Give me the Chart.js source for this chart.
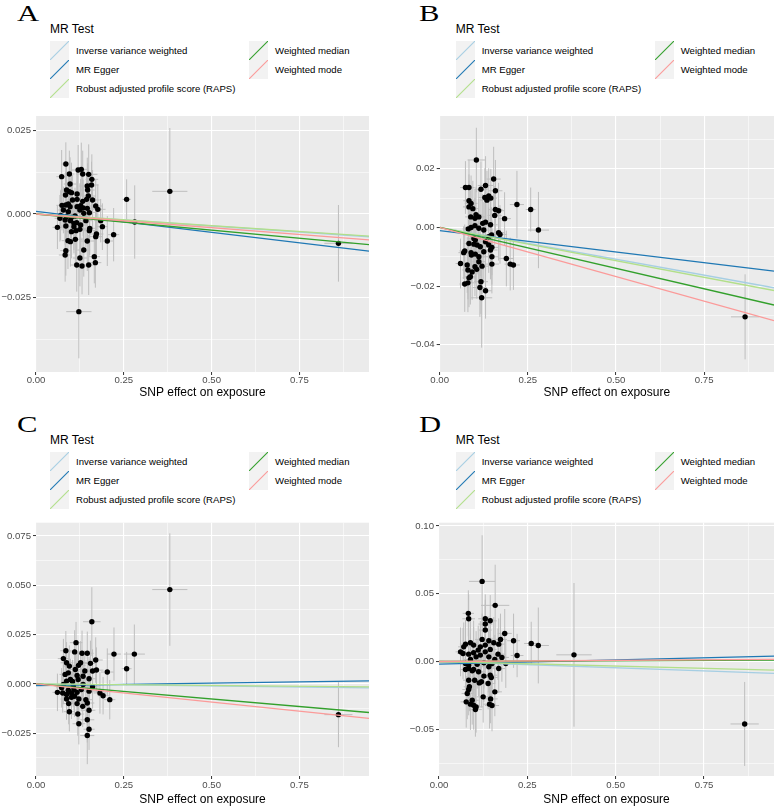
<!DOCTYPE html>
<html><head><meta charset="utf-8">
<script src="https://cdn.jsdelivr.net/npm/chart.js@4.4.1/dist/chart.umd.min.js"></script>
<style>
html,body{margin:0;padding:0;background:#fff}
body{width:778px;height:807px;position:relative;overflow:hidden;font-family:"Liberation Sans",Arial,sans-serif}
canvas{position:absolute}
.letter{position:absolute;font-family:"Liberation Serif","Times New Roman",serif;font-size:22.7px;line-height:1;transform:scaleX(1.35);transform-origin:left top;color:#000;white-space:nowrap}
.ltitle{position:absolute;font-size:12px;line-height:1;color:#000;white-space:nowrap}
.ltext{position:absolute;font-size:9.6px;line-height:1;color:#000;white-space:nowrap}
.key{position:absolute;width:19px;height:19px}
</style>
</head><body>
<script>
// ---------------- data ----------------
const methods = ["Inverse variance weighted","MR Egger","Robust adjusted profile score (RAPS)","Weighted median","Weighted mode"];
const methodColors = ["#a6cee3","#1f78b4","#b2df8a","#33a02c","#fb9a99"];
const xMax = 0.948;

// Panel A
const aX = [0.085,0.073,0.095,0.097,0.12,0.129,0.133,0.15,0.159,0.158,0.146,0.087,0.095,0.101,0.117,0.084,0.117,0.149,0.144,0.161,0.258,0.381,0.074,0.085,0.097,0.117,0.127,0.134,0.146,0.17,0.176,0.125,0.078,0.092,0.152,0.07,0.087,0.101,0.111,0.083,0.098,0.116,0.142,0.127,0.061,0.085,0.108,0.125,0.153,0.152,0.189,0.184,0.281,0.101,0.114,0.172,0.17,0.221,0.091,0.112,0.098,0.146,0.203,0.861,0.136,0.085,0.083,0.125,0.166,0.169,0.116,0.131,0.15,0.122,0.108,0.068,0.136,0.092,0.133,0.104,0.147];
const aY = [0.015,0.0112,0.012,0.009,0.0132,0.0134,0.012,0.0119,0.0104,0.0087,0.0084,0.0072,0.0067,0.0064,0.006,0.0057,0.0044,0.0054,0.0044,0.0042,0.0044,0.0068,0.0026,0.0027,0.0022,0.0022,0.0025,0.0018,0.0017,0.0024,0.0014,0.0012,0.0012,0.0007,0.0004,-0.0004,-0.0008,-0.001,-0.0006,-0.0018,-0.002,-0.0026,-0.002,-0.0033,-0.004,-0.0036,-0.0038,-0.0046,-0.0043,-0.005,-0.0038,-0.002,-0.0024,-0.0053,-0.005,-0.006,-0.0068,-0.0062,-0.008,-0.0076,-0.0083,-0.0081,-0.0081,-0.0088,-0.0108,-0.011,-0.0123,-0.0132,-0.0128,-0.0146,-0.0153,-0.0156,-0.0153,-0.0293,-0.0028,-0.0013,0.0002,0.003,0.0038,0.0042,0.0072];
const aSX = [0.012,0.015,0.014,0.018,0.02,0.016,0.019,0.025,0.018,0.02,0.022,0.017,0.02,0.016,0.018,0.014,0.02,0.022,0.018,0.02,0.012,0.05,0.016,0.018,0.02,0.019,0.017,0.021,0.018,0.02,0.022,0.016,0.015,0.02,0.018,0.016,0.02,0.018,0.016,0.018,0.02,0.019,0.02,0.018,0.014,0.016,0.018,0.02,0.017,0.02,0.016,0.018,0.014,0.019,0.016,0.02,0.018,0.016,0.018,0.02,0.016,0.02,0.016,0.04,0.018,0.016,0.018,0.02,0.016,0.017,0.018,0.02,0.018,0.036,0.018,0.015,0.02,0.017,0.019,0.016,0.02];
const aSY = [0.0065,0.008,0.007,0.008,0.0075,0.008,0.007,0.009,0.0075,0.007,0.0085,0.008,0.0075,0.009,0.008,0.007,0.0085,0.008,0.0075,0.009,0.006,0.019,0.0075,0.008,0.0085,0.0075,0.008,0.0085,0.009,0.008,0.0075,0.008,0.007,0.0085,0.008,0.0075,0.008,0.009,0.0085,0.0075,0.008,0.0085,0.008,0.009,0.0065,0.0075,0.008,0.0085,0.008,0.0075,0.007,0.0065,0.011,0.008,0.0085,0.0075,0.008,0.008,0.0085,0.008,0.0075,0.009,0.0075,0.0115,0.008,0.0075,0.008,0.0085,0.008,0.0075,0.008,0.0085,0.009,0.014,0.008,0.007,0.008,0.0085,0.008,0.0075,0.008];
const aIntercepts = [0, 0.0008, 0, 0, 0];
const aSlopes = [-0.0072, -0.0126, -0.0070, -0.0097, -0.0082];

// Panel B
const bX = [0.104,0.073,0.083,0.153,0.13,0.117,0.158,0.128,0.139,0.145,0.083,0.089,0.083,0.219,0.258,0.158,0.167,0.156,0.103,0.088,0.111,0.1,0.13,0.122,0.144,0.184,0.1,0.081,0.089,0.111,0.28,0.167,0.171,0.147,0.139,0.097,0.083,0.097,0.106,0.139,0.115,0.148,0.071,0.089,0.101,0.09,0.125,0.148,0.189,0.068,0.111,0.059,0.148,0.2,0.209,0.078,0.1,0.12,0.08,0.092,0.105,0.087,0.083,0.117,0.071,0.08,0.114,0.13,0.119,0.866,0.101,0.13,0.125,0.134,0.094,0.144,0.111];
const bY = [0.023,0.0136,0.0136,0.0165,0.0143,0.013,0.0125,0.0102,0.0107,0.01,0.0091,0.0082,0.007,0.0078,0.0061,0.0061,0.0057,0.0041,0.0043,0.0036,0.0036,0.0031,0.0018,0.0014,0.0009,0.003,0.0006,-0.0005,0,-0.0003,-0.0009,-0.0018,-0.0024,-0.0026,-0.0032,-0.0038,-0.0055,-0.0057,-0.006,-0.006,-0.0066,-0.0068,-0.008,-0.0086,-0.0091,-0.0094,-0.0083,-0.01,-0.0106,-0.0086,-0.0117,-0.0123,-0.0125,-0.0125,-0.0128,-0.0128,-0.0134,-0.0132,-0.0145,-0.0152,-0.0143,-0.0168,-0.0172,-0.0185,-0.0193,-0.0189,-0.0205,-0.0216,-0.024,-0.0305,-0.0043,-0.0049,-0.0009,0.0093,0.0064,-0.0077,-0.01];
const bSX = [0.025,0.015,0.016,0.02,0.022,0.018,0.02,0.018,0.02,0.018,0.016,0.018,0.017,0.02,0.014,0.02,0.018,0.02,0.018,0.016,0.02,0.018,0.02,0.018,0.02,0.018,0.017,0.016,0.018,0.02,0.03,0.018,0.02,0.018,0.02,0.018,0.016,0.018,0.02,0.018,0.02,0.018,0.015,0.017,0.02,0.018,0.02,0.018,0.02,0.015,0.018,0.014,0.02,0.016,0.018,0.016,0.018,0.02,0.016,0.018,0.02,0.016,0.018,0.02,0.015,0.017,0.02,0.018,0.03,0.04,0.018,0.02,0.018,0.02,0.017,0.02,0.018];
const bSY = [0.011,0.009,0.0095,0.011,0.01,0.0095,0.0105,0.01,0.0095,0.01,0.009,0.0095,0.009,0.0115,0.0075,0.01,0.0095,0.01,0.0095,0.009,0.0095,0.01,0.0095,0.01,0.0095,0.009,0.0095,0.009,0.0095,0.01,0.013,0.0095,0.01,0.0095,0.01,0.0095,0.009,0.0095,0.01,0.0095,0.01,0.0095,0.009,0.0095,0.01,0.0095,0.01,0.0095,0.0095,0.009,0.0095,0.0085,0.01,0.009,0.0085,0.0095,0.01,0.0095,0.01,0.0095,0.01,0.0095,0.01,0.011,0.0095,0.01,0.01,0.0095,0.017,0.0145,0.0095,0.01,0.0095,0.01,0.0095,0.01,0.0095];
const bIntercepts = [0, -0.0011, 0, 0, 0];
const bSlopes = [-0.0217, -0.01453, -0.0227, -0.0279, -0.0335];

// Panel C
const cX = [0.381,0.159,0.114,0.085,0.11,0.131,0.146,0.222,0.28,0.078,0.17,0.087,0.127,0.155,0.095,0.121,0.258,0.203,0.161,0.172,0.112,0.083,0.117,0.134,0.151,0.098,0.087,0.104,0.12,0.161,0.073,0.108,0.092,0.061,0.076,0.087,0.101,0.117,0.151,0.182,0.191,0.21,0.087,0.101,0.122,0.142,0.093,0.117,0.133,0.146,0.151,0.095,0.119,0.146,0.122,0.151,0.146,0.861,0.106,0.134,0.139,0.092,0.129,0.11,0.078];
const cY = [0.0478,0.0315,0.0209,0.0168,0.0162,0.0155,0.0155,0.0151,0.0151,0.0128,0.0121,0.0107,0.0107,0.0104,0.009,0.0094,0.0077,0.006,0.0065,0.007,0.0073,0.0048,0.0043,0.0039,0.0026,0.0022,0.0014,0.0012,0.0022,-0.0015,-0.002,-0.0029,-0.0032,-0.0043,-0.0046,-0.0054,-0.0046,-0.0043,-0.0037,-0.0046,-0.006,-0.008,-0.0077,-0.0068,-0.0077,-0.008,-0.01,-0.01,-0.0114,-0.0097,-0.0134,-0.0141,-0.0153,-0.0182,-0.0202,-0.023,-0.0262,-0.0156,-0.0012,-0.0003,0.0065,0.0056,-0.0029,-0.0063,-0.0003];
const cSX = [0.05,0.025,0.018,0.016,0.018,0.02,0.018,0.02,0.03,0.016,0.02,0.017,0.02,0.018,0.018,0.02,0.014,0.018,0.018,0.02,0.018,0.016,0.02,0.018,0.02,0.018,0.016,0.018,0.02,0.018,0.016,0.018,0.02,0.014,0.016,0.018,0.02,0.018,0.02,0.018,0.016,0.016,0.018,0.02,0.018,0.02,0.018,0.02,0.018,0.02,0.018,0.016,0.018,0.02,0.018,0.016,0.02,0.04,0.018,0.02,0.018,0.016,0.02,0.018,0.016];
const cSY = [0.0285,0.0175,0.0105,0.01,0.011,0.0115,0.011,0.0135,0.015,0.01,0.0115,0.0105,0.011,0.0115,0.0105,0.011,0.0085,0.012,0.011,0.0115,0.0105,0.01,0.011,0.0105,0.011,0.0105,0.01,0.011,0.0105,0.011,0.01,0.0105,0.011,0.0095,0.01,0.0105,0.011,0.0105,0.011,0.0105,0.0095,0.01,0.0105,0.011,0.0105,0.011,0.0105,0.011,0.0105,0.011,0.0105,0.01,0.011,0.0115,0.0105,0.0105,0.0145,0.0165,0.0105,0.011,0.0105,0.01,0.011,0.0105,0.01];
const cIntercepts = [0, -0.0009, 0, 0, 0];
const cSlopes = [-0.0021, 0.0025, -0.0016, -0.0153, -0.0185];

// Panel D
const dX = [0.122,0.159,0.083,0.084,0.131,0.145,0.131,0.131,0.186,0.174,0.211,0.122,0.141,0.261,0.281,0.155,0.075,0.089,0.098,0.117,0.131,0.169,0.061,0.068,0.084,0.098,0.145,0.167,0.221,0.382,0.105,0.117,0.141,0.178,0.089,0.158,0.15,0.189,0.075,0.108,0.127,0.169,0.084,0.098,0.075,0.112,0.094,0.145,0.148,0.084,0.12,0.114,0.139,0.086,0.084,0.158,0.125,0.146,0.077,0.094,0.089,0.098,0.105,0.143,0.15,0.103,0.865,0.07,0.131,0.111,0.084,0.141,0.127,0.101,0.08];
const dY = [0.0591,0.0414,0.0355,0.0315,0.0315,0.03,0.0276,0.0232,0.0207,0.0163,0.0153,0.0163,0.0153,0.0133,0.0118,0.0138,0.0128,0.0138,0.0121,0.0108,0.0121,0.0128,0.0071,0.0059,0.0054,0.0064,0.0089,0.0054,0.0044,0.0049,0.0034,0.0047,0.0034,0.003,0.0015,0.0015,-0.0015,-0.0015,-0.0015,-0.002,-0.001,-0.0052,-0.0052,-0.0059,-0.0059,-0.0076,-0.0069,-0.0101,-0.0118,-0.0138,-0.015,-0.0158,-0.0163,-0.0187,-0.0207,-0.0224,-0.0261,-0.0276,-0.0298,-0.0286,-0.0315,-0.0323,-0.0335,-0.0315,-0.0325,-0.0355,-0.0461,0.0108,0.0071,0.0084,-0.0027,-0.0039,-0.0108,-0.0138,-0.0236];
const dSX = [0.037,0.04,0.016,0.018,0.02,0.018,0.02,0.018,0.02,0.018,0.018,0.02,0.018,0.02,0.03,0.02,0.016,0.018,0.02,0.018,0.02,0.018,0.014,0.016,0.018,0.02,0.018,0.02,0.018,0.05,0.018,0.02,0.018,0.02,0.018,0.02,0.018,0.02,0.016,0.018,0.02,0.018,0.016,0.018,0.016,0.02,0.018,0.02,0.018,0.016,0.02,0.018,0.02,0.016,0.018,0.02,0.018,0.02,0.016,0.018,0.016,0.018,0.02,0.018,0.02,0.018,0.04,0.016,0.02,0.018,0.016,0.02,0.018,0.02,0.016];
const dSY = [0.034,0.03,0.017,0.018,0.018,0.019,0.018,0.019,0.018,0.019,0.02,0.019,0.018,0.016,0.028,0.019,0.018,0.019,0.018,0.019,0.018,0.019,0.018,0.019,0.018,0.019,0.018,0.019,0.016,0.053,0.019,0.018,0.019,0.018,0.019,0.018,0.019,0.018,0.019,0.018,0.019,0.018,0.019,0.018,0.019,0.018,0.019,0.018,0.019,0.018,0.019,0.018,0.019,0.018,0.019,0.018,0.019,0.018,0.019,0.018,0.019,0.018,0.019,0.018,0.019,0.02,0.031,0.018,0.019,0.018,0.019,0.018,0.019,0.018,0.019];
const dIntercepts = [0, -0.002, 0, 0, 0];
const dSlopes = [-0.0093, 0.0062, -0.0067, 0.001, 0.0016];

// tick labels
const xMajor = [0, 0.25, 0.5, 0.75];
const xMinor = [0.125, 0.375, 0.625, 0.875];
const xTickLabels = ["0.00","0.25","0.50","0.75"];
const aYMajor = [-0.025, 0, 0.025], aYMinor = [-0.0375, -0.0125, 0.0125], aYLabels = ["\u22120.025","0.000","0.025"];
const bYMajor = [-0.04, -0.02, 0, 0.02], bYMinor = [-0.03, -0.01, 0.01, 0.03], bYLabels = ["\u22120.04","\u22120.02","0.00","0.02"];
const cYMajor = [-0.025, 0, 0.025, 0.05, 0.075], cYMinor = [-0.0375, -0.0125, 0.0125, 0.0375, 0.0625], cYLabels = ["\u22120.025","0.000","0.025","0.050","0.075"];
const dYMajor = [-0.05, 0, 0.05, 0.1], dYMinor = [-0.075, -0.025, 0.025, 0.075], dYLabels = ["\u22120.05","0.00","0.05","0.10"];

// ---------------- layout ----------------
const panels = [
  {letter:"A", lx:17, ox:50, oy:0, left:0, top:100, w:389, h:305, padTop:16, padRight:20, yW:36, xH:33, xPad:0, tPad:5, ymin:-0.0474, ymax:0.0294,
   X:aX, Y:aY, SX:aSX, SY:aSY, b:aIntercepts, m:aSlopes, yMaj:aYMajor, yMin:aYMinor, yLab:aYLabels},
  {letter:"B", lx:419, ox:455.7, oy:0, left:389, top:100, w:389, h:305, padTop:16, padRight:1.3, yW:50.7, xH:33, xPad:0, tPad:5, ymin:-0.0493, ymax:0.038,
   X:bX, Y:bY, SX:bSX, SY:bSY, b:bIntercepts, m:bSlopes, yMaj:bYMajor, yMin:bYMinor, yLab:bYLabels},
  {letter:"C", lx:17, ox:50, oy:411, left:0, top:507, w:389, h:300, padTop:15.7, padRight:20, yW:36, xH:31, xPad:1, tPad:0.5, ymin:-0.0467, ymax:0.0817,
   X:cX, Y:cY, SX:cSX, SY:cSY, b:cIntercepts, m:cSlopes, yMaj:cYMajor, yMin:cYMinor, yLab:cYLabels},
  {letter:"D", lx:419, ox:455.7, oy:411, left:389, top:507, w:389, h:300, padTop:15.7, padRight:1.3, yW:50, xH:31, xPad:1, tPad:0.5, ymin:-0.0845, ymax:0.1024,
   X:dX, Y:dY, SX:dSX, SY:dSY, b:dIntercepts, m:dSlopes, yMaj:dYMajor, yMin:dYMinor, yLab:dYLabels}
];

function addEl(cls, left, top, text){
  const d = document.createElement('div'); d.className = cls;
  d.style.left = left + 'px'; d.style.top = top + 'px';
  if (text !== undefined) d.textContent = text;
  document.body.appendChild(d); return d;
}
function addKey(left, top, color){
  const ns = 'http://www.w3.org/2000/svg';
  const s = document.createElementNS(ns, 'svg');
  s.setAttribute('class','key'); s.setAttribute('width','19'); s.setAttribute('height','19');
  s.style.left = left + 'px'; s.style.top = top + 'px';
  const r = document.createElementNS(ns,'rect');
  r.setAttribute('width','19'); r.setAttribute('height','19'); r.setAttribute('fill','#f2f2f2');
  const l = document.createElementNS(ns,'line');
  l.setAttribute('x1','0'); l.setAttribute('y1','19'); l.setAttribute('x2','19'); l.setAttribute('y2','0');
  l.setAttribute('stroke', color); l.setAttribute('stroke-width','1.1');
  s.appendChild(r); s.appendChild(l); document.body.appendChild(s);
}
function addLegend(p){
  addEl('letter', p.lx, 2.7 + p.oy, p.letter);
  addEl('ltitle', p.ox, 29 + p.oy - 0.4885*12, 'MR Test');
  methods.forEach((name, k) => {
    const col = k < 3 ? 0 : 1, row = k < 3 ? k : k - 3;
    const kx = p.ox + col*199, ky = 40.7 + row*19 + p.oy;
    addKey(kx, ky, methodColors[k]);
    addEl('ltext', kx + 26, 51 + row*19 + p.oy - 0.4885*9.6, name);
  });
}

const bgPlugin = {
  id: 'panelBg',
  beforeDraw(chart){
    const {ctx, chartArea:a} = chart;
    ctx.save(); ctx.fillStyle = '#ebebeb';
    ctx.fillRect(a.left, a.top, a.right - a.left, a.bottom - a.top);
    ctx.restore();
  }
};

function tickList(maj, mnr, lo, hi){
  const t = [];
  maj.forEach(v => { if (v >= lo && v <= hi) t.push({value:v, mj:true}); });
  mnr.forEach(v => { if (v >= lo && v <= hi) t.push({value:v, mj:false}); });
  t.sort((a,b) => a.value - b.value);
  return t;
}
function labelFor(maj, labs, v){
  for (let i = 0; i < maj.length; i++) if (Math.abs(maj[i] - v) < 1e-9) return labs[i];
  return '';
}

function makePanel(p){
  addLegend(p);
  const cv = document.createElement('canvas');
  cv.width = p.w; cv.height = p.h;
  cv.style.left = p.left + 'px'; cv.style.top = p.top + 'px';
  cv.style.width = p.w + 'px'; cv.style.height = p.h + 'px';
  document.body.appendChild(cv);

  const hbar = [], vbar = [], pts = [];
  for (let i = 0; i < p.X.length; i++){
    hbar.push({x:p.X[i]-p.SX[i], y:p.Y[i]}, {x:p.X[i]+p.SX[i], y:p.Y[i]}, {x:p.X[i], y:null});
    vbar.push({x:p.X[i], y:p.Y[i]-p.SY[i]}, {x:p.X[i], y:p.Y[i]+p.SY[i]}, {x:p.X[i], y:null});
    pts.push({x:p.X[i], y:p.Y[i]});
  }
  // higher "order" is drawn first (underneath)
  const datasets = [
    {type:'line', order:20, data:vbar, borderColor:'#bebebe', borderWidth:1, pointRadius:0, spanGaps:false, fill:false, tension:0},
    {type:'line', order:19, data:hbar, borderColor:'#bebebe', borderWidth:1, pointRadius:0, spanGaps:false, fill:false, tension:0},
    {type:'scatter', order:10, data:pts, backgroundColor:'#000', borderColor:'#000', pointRadius:2.7, borderWidth:0}
  ];
  methods.forEach((name, k) => {
    datasets.push({type:'line', order:5 - k, label:name, data:[{x:0, y:p.b[k]}, {x:xMax, y:p.b[k] + p.m[k]*xMax}],
      borderColor:methodColors[k], borderWidth:1.3, pointRadius:0, fill:false, tension:0});
  });

  const gridCol = '#ffffff';
  new Chart(cv, {
    data:{datasets},
    plugins:[bgPlugin],
    options:{
      responsive:false, animation:false, devicePixelRatio:1,
      layout:{padding:{top:p.padTop, right:p.padRight, bottom:0, left:0}},
      plugins:{legend:{display:false}, tooltip:{enabled:false}},
      scales:{
        x:{type:'linear', min:0, max:xMax,
          afterBuildTicks:(s) => { s.ticks = tickList(xMajor, xMinor, 0, xMax); },
          afterFit:(s) => { s.height = p.xH; },
          ticks:{autoSkip:false, maxRotation:0, padding:p.xPad, color:'#4d4d4d', font:{family:'Liberation Sans', size:9.6},
            callback:(v) => labelFor(xMajor, xTickLabels, v)},
          grid:{color:gridCol, lineWidth:(c) => (c.tick && c.tick.mj) ? 1.1 : 0.55, tickLength:3,
            tickColor:(c) => (c.tick && c.tick.mj) ? '#333333' : 'rgba(0,0,0,0)', tickWidth:1},
          border:{display:false},
          title:{display:true, text:'SNP effect on exposure', color:'#000', font:{family:'Liberation Sans', size:12}, padding:{top:0, bottom:p.tPad}}
        },
        y:{type:'linear', min:p.ymin, max:p.ymax,
          afterBuildTicks:(s) => { s.ticks = tickList(p.yMaj, p.yMin, p.ymin, p.ymax); },
          afterFit:(s) => { s.width = p.yW; },
          ticks:{autoSkip:false, padding:2, color:'#4d4d4d', font:{family:'Liberation Sans', size:9.6},
            callback:(v) => labelFor(p.yMaj, p.yLab, v)},
          grid:{color:gridCol, lineWidth:(c) => (c.tick && c.tick.mj) ? 1.1 : 0.55, tickLength:3,
            tickColor:(c) => (c.tick && c.tick.mj) ? '#333333' : 'rgba(0,0,0,0)', tickWidth:1},
          border:{display:false}
        }
      }
    }
  });
}
panels.forEach(makePanel);
</script>
</body></html>
